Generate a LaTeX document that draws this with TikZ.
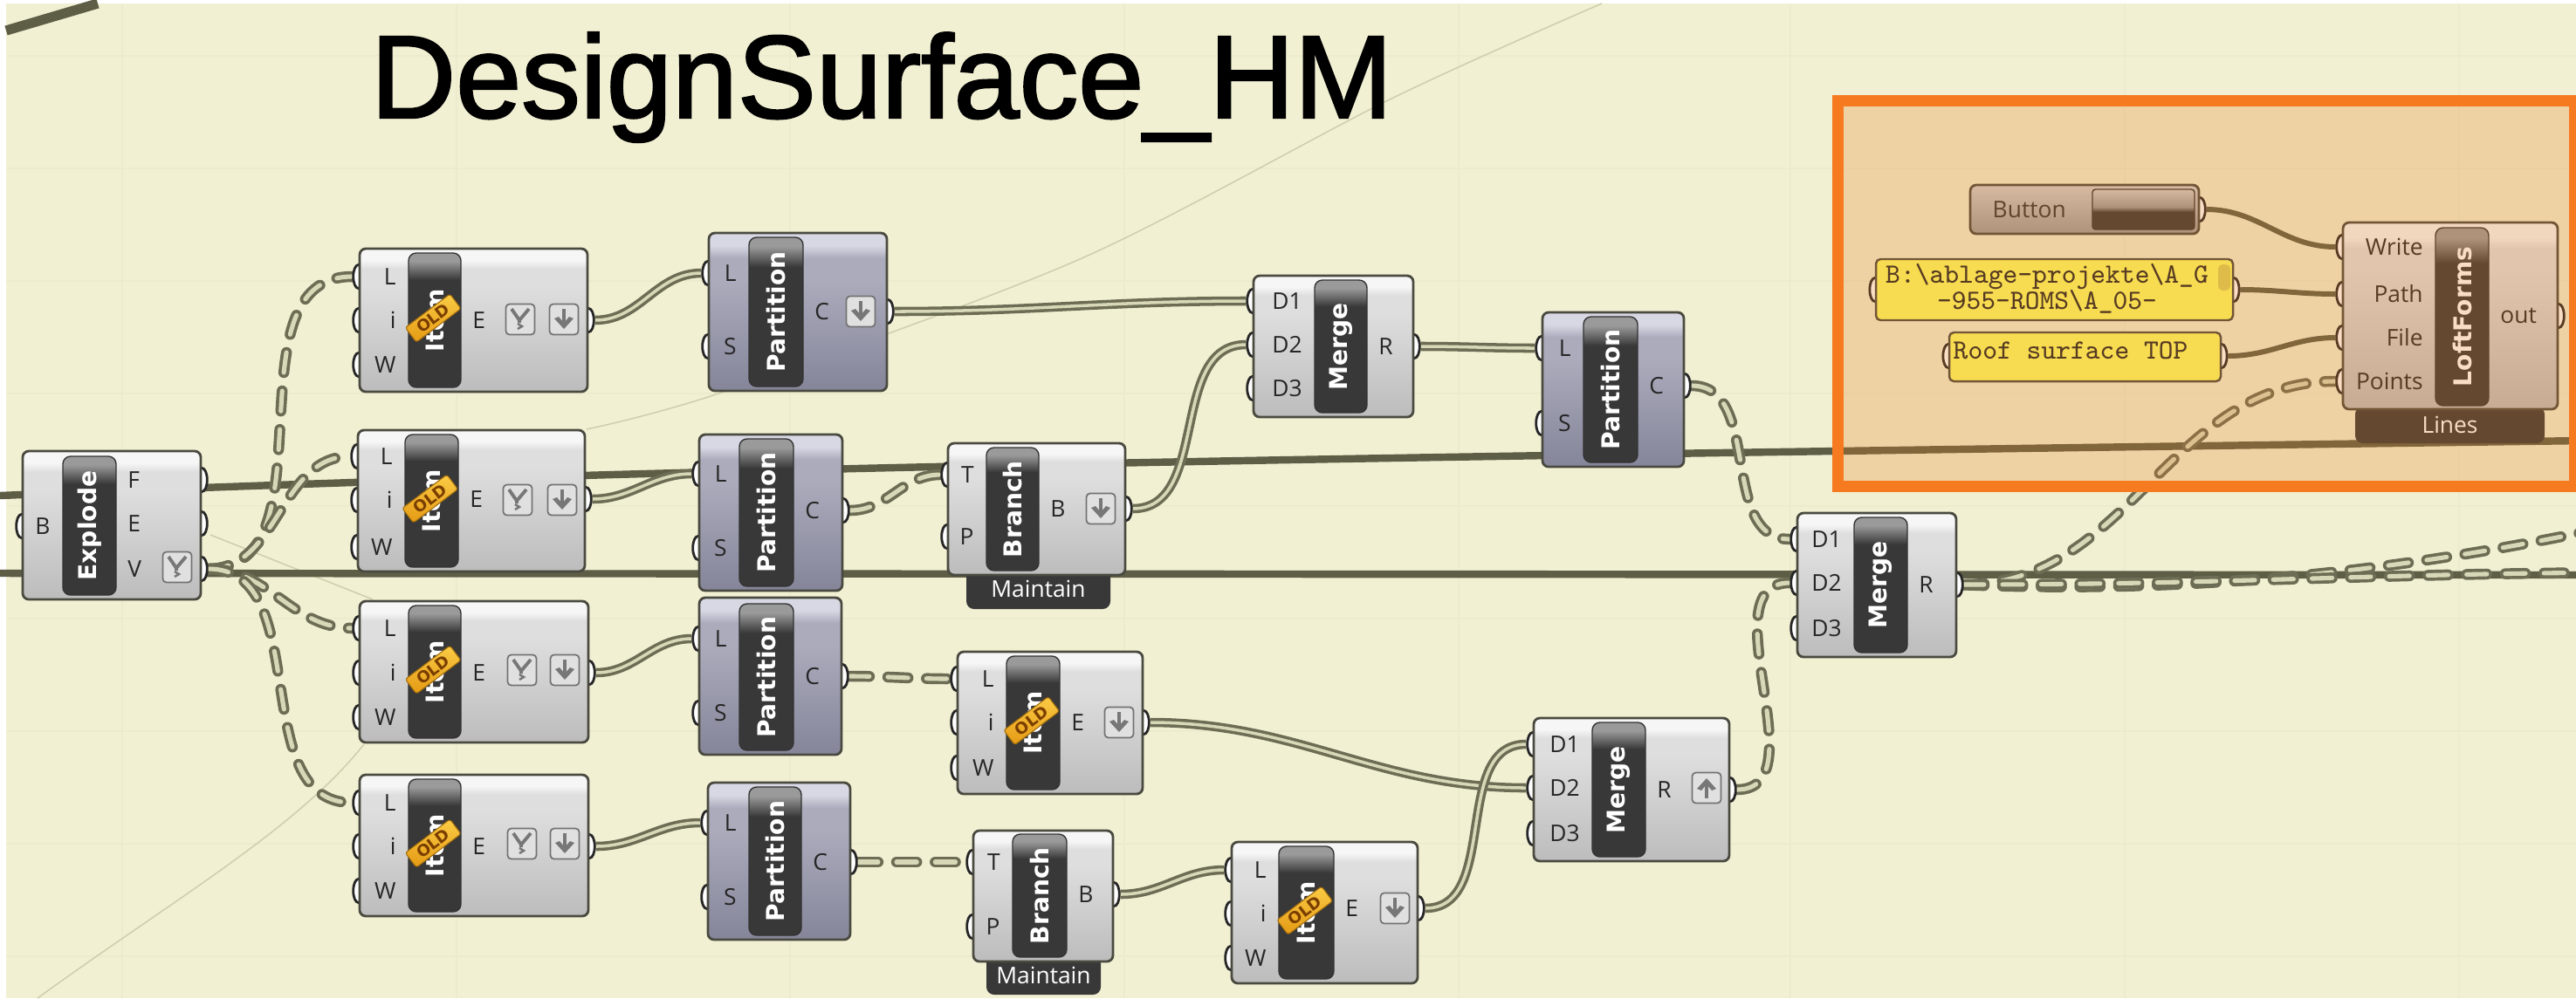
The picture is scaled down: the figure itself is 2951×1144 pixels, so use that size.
\documentclass[tikz,border=0pt]{standalone}
\usepackage{fontspec}
\setmainfont{Open Sans}
\newfontfamily\barfont{DejaVu Sans}
\newfontfamily\titlefont{Liberation Sans}[FakeBold=1.8]
\usetikzlibrary{fit,shapes.geometric}

\definecolor{canvasbg}{HTML}{F2F0D3}
\definecolor{gridtone}{HTML}{EDEBCD}
\definecolor{faintwire}{HTML}{CFCFAE}
\definecolor{wiredark}{HTML}{6D6D55}
\definecolor{wirecore}{HTML}{D8D8B8}
\definecolor{wirelonec}{HTML}{5E5E47}
\definecolor{bodyedge}{HTML}{4A4A40}
\definecolor{barcol}{HTML}{383838}
\definecolor{bargrey}{HTML}{9A9A9A}
\definecolor{bodylow}{HTML}{BCBCBC}
\definecolor{bodymid}{HTML}{DEDEDE}
\definecolor{bodytop}{HTML}{F6F6F6}
\definecolor{partlow}{HTML}{85859A}
\definecolor{partmid}{HTML}{ABABBC}
\definecolor{parttop}{HTML}{D8D8E4}
\definecolor{btnlow}{HTML}{9A9A9A}
\definecolor{btntop}{HTML}{D0D0D0}
\definecolor{paneltone}{HTML}{FCFC62}
\definecolor{panelbar}{HTML}{DCD25A}
\definecolor{tagtop}{HTML}{FBCB45}
\definecolor{taglow}{HTML}{E59A14}
\definecolor{tagtext}{HTML}{7A3E00}
\definecolor{frameorange}{HTML}{F57A20}
\definecolor{tintorange}{RGB}{234,124,27}
\definecolor{icongrey}{HTML}{777777}

\pgfdeclarelayer{back}
\pgfdeclarelayer{wires}
\pgfdeclarelayer{ports}
\pgfdeclarelayer{tint}
\pgfsetlayers{back,wires,ports,main,tint}

\pgfdeclareverticalshading{bodyshade}{100bp}{color(0bp)=(bodylow); color(25bp)=(bodylow); color(62bp)=(bodymid); color(68bp)=(bodymid); color(71bp)=(bodytop); color(100bp)=(bodytop)}
\pgfdeclareverticalshading{partshade}{100bp}{color(0bp)=(partlow); color(25bp)=(partlow); color(60bp)=(partmid); color(67bp)=(partmid); color(71bp)=(parttop); color(100bp)=(parttop)}
\pgfdeclareverticalshading{btnshade}{100bp}{color(0bp)=(btnlow); color(25bp)=(btnlow); color(75bp)=(btntop); color(100bp)=(btntop)}
\pgfdeclareverticalshading{barshade}{100bp}{color(0bp)=(barcol); color(65bp)=(barcol); color(72bp)=(bargrey); color(100bp)=(bargrey)}
\pgfdeclareverticalshading{pressshade}{100bp}{color(0bp)=(barcol); color(47bp)=(barcol); color(53bp)=(bargrey); color(75bp)=(btntop); color(100bp)=(btntop)}

\tikzset{
  compbody/.style={draw=bodyedge,line width=.8pt,rounded corners=2pt,inner sep=0pt,shading=bodyshade},
  partbody/.style={compbody,shading=partshade},
  barbox/.style={draw=black!80,line width=.4pt,rounded corners=2.5pt,inner sep=0pt,shading=barshade},
  bartext/.style={inner sep=0pt,text=white,font=\barfont\bfseries\fontsize{8}{9}\selectfont},
  tabbox/.style={fill=barcol,rounded corners=2.5pt,inner sep=0pt},
  tabtext/.style={inner sep=0pt,text=white,font=\fontsize{7.5}{9}\selectfont},
  panelbody/.style={draw=bodyedge,line width=.7pt,rounded corners=1.5pt,inner sep=0pt,fill=paneltone},
  paneltext/.style={inner sep=0pt,align=center,text=black!85,font=\ttfamily\fontsize{9.1}{8.6}\selectfont},
  portdot/.style={ellipse,draw=black!85,line width=.8pt,fill=white,minimum width=12pt*.28,minimum height=.27cm,inner sep=0pt},
  intext/.style={anchor=east,inner sep=0pt,xshift=-.13cm,text=black!85,font=\fontsize{7.5}{9}\selectfont},
  outtext/.style={anchor=west,inner sep=0pt,xshift=.12cm,text=black!85,font=\fontsize{7.5}{9}\selectfont},
  iconbox/.style={draw=black!55,line width=.5pt,rounded corners=1.2pt,fill=white!88!black,minimum width=.33cm,minimum height=.35cm,inner sep=0pt},
  oldtag/.style={rotate=37,draw=taglow!70!black,line width=.3pt,rounded corners=.8pt,top color=tagtop,bottom color=taglow,
    minimum width=.64cm,minimum height=.21cm,inner sep=0pt,text=tagtext,font=\barfont\bfseries\fontsize{5.2}{6}\selectfont},
  wirepair/.style={draw=wiredark,double=wirecore,line width=1pt,double distance=1pt},
  wiretree/.style={draw=wiredark,double=wirecore,line width=1.05pt,double distance=1.45pt,line cap=round,dash pattern=on 6.6pt off 6pt},
  wirelone/.style={draw=wirelonec,line width=2.4pt},
  wirefaint/.style={draw=faintwire,line width=.45pt},
  funnel/.pic={
    \draw[icongrey,line width=1.1pt] (-10,-12) -- (-1,1) -- (10,-12) (-1,1) -- (-1,4);
    \draw[icongrey,line width=.7pt] (-3,5) -- (2,8) -- (-3,11);
  },
  downarrow/.pic={
    \draw[icongrey,line width=1.2pt] (0,-12) -- (0,6);
    \fill[icongrey] (-11,-1) -- (0,11) -- (11,-1) -- (6,-3) -- (0,4) -- (-6,-3) -- cycle;
  },
  uparrow/.pic={
    \draw[icongrey,line width=1.2pt] (0,12) -- (0,-6);
    \fill[icongrey] (-11,1) -- (0,-11) -- (11,1) -- (6,3) -- (0,-4) -- (-6,3) -- cycle;
  }
}

% body and dark title bar of one component
\newcommand{\gcomp}[7][compbody]{
  \node[#1,fit={(#3)(#4)}] (#2) {};
  \node[barbox,fit={(#5)(#6)}] (#2bar) {};
  \node[bartext] (#2name) at (#2bar.center) {\rotatebox{90}{#7}};
}
% input and output grips with their letters
\newcommand{\inport}[3]{
  \begin{pgfonlayer}{ports}\node[portdot] (#1#2) at (#1.west |- 0,#3) {};\end{pgfonlayer}
  \node[intext] at (#1bar.west |- #1#2) {#2};
}
\newcommand{\outport}[3]{
  \begin{pgfonlayer}{ports}\node[portdot] (#1#2) at (#1.east |- 0,#3) {};\end{pgfonlayer}
  \node[outtext] at (#1bar.east |- #1#2) {#2};
}
\newcommand{\gtab}[4]{
  \begin{pgfonlayer}{ports}
    \node[tabbox,fit={(#2)(#3)}] (#1) {};
    \node[tabtext] (#1name) at (#1.center) {#4};
  \end{pgfonlayer}
}
\newcommand{\oldmark}[1]{
  \node[oldtag,yshift=.03cm] (#1tag) at (#1bar) {OLD};
}

\begin{document}
\begin{tikzpicture}[x=0.01cm,y=-0.01cm]
    \useasboundingbox (0,0) rectangle (2951,1144);

    % canvas, its faint grid and the hidden wires
    \begin{pgfonlayer}{back}
        \fill[white] (0,0) rectangle (2951,1144);
        \fill[canvasbg] (7,4) rectangle (2951,1144);
        \foreach \gx in {140,523,905,1288,1671,2051,2434,2817}
            \draw[gridtone,line width=.4pt] (\gx,4) -- (\gx,1144);
        \foreach \gy in {64,193,322,451,580,709,838,967,1096}
            \draw[gridtone,line width=.4pt] (7,\gy) -- (2951,\gy);
        \draw[wirefaint] (43,1144) .. controls (200,1030) and (340,950) .. (417,853);
        \draw[wirefaint] plot[smooth] coordinates {(672,492) (832,448) (1237,297) (1594,113) (1835,4)};
        \draw[wirefaint] (241,613) -- (427,687);
        \draw[wirelone,line width=3.2pt] (7,35) -- (112,4);
    \end{pgfonlayer}

    \node[anchor=base west,inner sep=0pt,font=\titlefont\fontsize{38.4}{40}\selectfont] (title) at (424,135) {DesignSurface\_HM};

    % Explode
    \gcomp{explode}{26,517}{230,687}{72,523}{133,682}{Explode}
    \inport{explode}{B}{603}
    \outport{explode}{F}{550}
    \outport{explode}{E}{600}
    \outport{explode}{V}{652}
    \node[iconbox] (explodeflat) at (203,650) {};
    \pic at (explodeflat) {funnel};

    % the four list items on the left
    \gcomp{item1}{412,285}{673,449}{468,290}{528,444}{Item}
    \inport{item1}{L}{317}
    \inport{item1}{i}{367}
    \inport{item1}{W}{418}
    \outport{item1}{E}{367}
    \oldmark{item1}
    \node[iconbox] (item1flat) at (596,366) {};
    \node[iconbox] (item1graft) at (646,366) {};
    \pic at (item1flat) {funnel};
    \pic at (item1graft) {downarrow};

    \gcomp{item2}{410,493}{670,655}{464,498}{525,650}{Item}
    \inport{item2}{L}{523}
    \inport{item2}{i}{573}
    \inport{item2}{W}{627}
    \outport{item2}{E}{572}
    \oldmark{item2}
    \node[iconbox] (item2flat) at (593,573) {};
    \node[iconbox] (item2graft) at (644,573) {};
    \pic at (item2flat) {funnel};
    \pic at (item2graft) {downarrow};

    \gcomp{item3}{412,689}{674,851}{468,694}{528,846}{Item}
    \inport{item3}{L}{720}
    \inport{item3}{i}{771}
    \inport{item3}{W}{822}
    \outport{item3}{E}{771}
    \oldmark{item3}
    \node[iconbox] (item3flat) at (598,768) {};
    \node[iconbox] (item3graft) at (647,768) {};
    \pic at (item3flat) {funnel};
    \pic at (item3graft) {downarrow};

    \gcomp{item4}{412,888}{674,1050}{468,893}{528,1045}{Item}
    \inport{item4}{L}{920}
    \inport{item4}{i}{970}
    \inport{item4}{W}{1021}
    \outport{item4}{E}{970}
    \oldmark{item4}
    \node[iconbox] (item4flat) at (598,967) {};
    \node[iconbox] (item4graft) at (647,967) {};
    \pic at (item4flat) {funnel};
    \pic at (item4graft) {downarrow};

    % partitions
    \gcomp[partbody]{part1}{812,267}{1016,448}{858,272}{920,443}{Partition}
    \inport{part1}{L}{313}
    \inport{part1}{S}{397}
    \outport{part1}{C}{357}
    \node[iconbox] (part1graft) at (986,357) {};
    \pic at (part1graft) {downarrow};

    \gcomp[partbody]{part2}{801,498}{965,677}{847,503}{909,672}{Partition}
    \inport{part2}{L}{543}
    \inport{part2}{S}{628}
    \outport{part2}{C}{585}

    \gcomp[partbody]{part3}{801,685}{964,865}{847,692}{909,860}{Partition}
    \inport{part3}{L}{732}
    \inport{part3}{S}{817}
    \outport{part3}{C}{775}

    \gcomp[partbody]{part4}{811,897}{974,1077}{858,902}{918,1072}{Partition}
    \inport{part4}{L}{943}
    \inport{part4}{S}{1028}
    \outport{part4}{C}{988}

    \gcomp[partbody]{part5}{1767,358}{1929,535}{1814,363}{1876,530}{Partition}
    \inport{part5}{L}{399}
    \inport{part5}{S}{485}
    \outport{part5}{C}{442}

    % branches
    \gcomp{branch1}{1086,508}{1289,659}{1130,513}{1190,654}{Branch}
    \inport{branch1}{T}{544}
    \inport{branch1}{P}{615}
    \outport{branch1}{B}{583}
    \node[iconbox] (branch1graft) at (1261,583) {};
    \pic at (branch1graft) {downarrow};
    \gtab{branch1tab}{1107,652}{1272,698}{Maintain}

    \gcomp{branch2}{1115,952}{1275,1102}{1160,956}{1222,1097}{Branch}
    \inport{branch2}{T}{988}
    \inport{branch2}{P}{1062}
    \outport{branch2}{B}{1025}
    \gtab{branch2tab}{1130,1095}{1261,1140}{Maintain}

    % the two later items
    \gcomp{item5}{1097,747}{1309,910}{1153,752}{1214,905}{Item}
    \inport{item5}{L}{778}
    \inport{item5}{i}{828}
    \inport{item5}{W}{880}
    \outport{item5}{E}{828}
    \oldmark{item5}
    \node[iconbox] (item5graft) at (1282,828) {};
    \pic at (item5graft) {downarrow};

    \gcomp{item6}{1411,965}{1624,1127}{1465,970}{1528,1122}{Item}
    \inport{item6}{L}{997}
    \inport{item6}{i}{1047}
    \inport{item6}{W}{1098}
    \outport{item6}{E}{1041}
    \oldmark{item6}
    \node[iconbox] (item6graft) at (1598,1041) {};
    \pic at (item6graft) {downarrow};

    % merges
    \gcomp{merge1}{1436,316}{1619,478}{1506,321}{1566,473}{Merge}
    \inport{merge1}{D1}{345}
    \inport{merge1}{D2}{395}
    \inport{merge1}{D3}{445}
    \outport{merge1}{R}{397}

    \gcomp{merge2}{2059,588}{2241,753}{2124,593}{2185,748}{Merge}
    \inport{merge2}{D1}{618}
    \inport{merge2}{D2}{668}
    \inport{merge2}{D3}{720}
    \outport{merge2}{R}{670}

    \gcomp{merge3}{1757,823}{1981,987}{1824,828}{1885,982}{Merge}
    \inport{merge3}{D1}{853}
    \inport{merge3}{D2}{903}
    \inport{merge3}{D3}{955}
    \outport{merge3}{R}{905}
    \node[iconbox] (merge3flip) at (1955,903) {};
    \pic at (merge3flip) {uparrow};

    % inputs of the writer
    \node[compbody,shading=btnshade,fit={(2257,212)(2519,268)}] (button) {};
    \node[anchor=west,inner sep=0pt,text=black!80,font=\fontsize{7.5}{9}\selectfont] (buttontext) at (2282,240) {Button};
    \node[draw=black!80,line width=.4pt,rounded corners=1pt,inner sep=0pt,shading=pressshade,fit={(2397,217)(2514,263)}] (buttonface) {};
    \begin{pgfonlayer}{ports}\node[portdot] (buttonout) at (button.east |- 0,240) {};\end{pgfonlayer}

    \node[panelbody,fit={(2149,297)(2558,367)}] (panelpath) {};
    \node[fill=panelbar,rounded corners=1.5pt,inner sep=0pt,fit={(2541,303)(2555,333)}] (panelscroll) {};
    \node[paneltext] (panelpathtext) at (2345,331) {B:\textbackslash ablage-projekte\textbackslash A\_G\\-955-ROMS\textbackslash A\_05-};
    \begin{pgfonlayer}{ports}
        \node[portdot] (panelpathin) at (panelpath.west |- 0,332) {};
        \node[portdot] (panelpathout) at (panelpath.east |- 0,332) {};
    \end{pgfonlayer}

    \node[panelbody,fit={(2233,381)(2544,437)}] (panelfile) {};
    \node[paneltext,anchor=west] (panelfiletext) at (2237,402) {Roof surface TOP};
    \begin{pgfonlayer}{ports}
        \node[portdot] (panelfilein) at (panelfile.west |- 0,408) {};
        \node[portdot] (panelfileout) at (panelfile.east |- 0,408) {};
    \end{pgfonlayer}

    % writer
    \gcomp{loft}{2684,255}{2930,469}{2790,261}{2851,465}{LoftForms}
    \inport{loft}{Write}{283}
    \inport{loft}{Path}{337}
    \inport{loft}{File}{387}
    \inport{loft}{Points}{437}
    \outport{loft}{out}{362}
    \gtab{lofttab}{2698,466}{2915,508}{Lines}

    % free ends beyond the picture
    \coordinate (leftA) at (0,568);
    \coordinate (rightA) at (2960,505);
    \coordinate (leftB) at (0,657);
    \coordinate (rightB) at (2960,659);
    \coordinate (rightC) at (3050,590);
    \coordinate (rightD) at (3050,656);

    \begin{pgfonlayer}{wires}
        % long plain wires
        \draw[wirelone] (leftA) .. controls (800,535) and (1500,525) .. (rightA);
        \draw[wirelone] (leftB) -- (rightB);

        % dashed wires from the vertices
        \draw[wiretree] (explodeV) to[out=0,in=180] (item1L);
        \draw[wiretree] (explodeV) to[out=0,in=180] (item2L);
        \draw[wiretree] (explodeV) to[out=0,in=180] (item3L);
        \draw[wiretree] (explodeV) to[out=0,in=180] (item4L);

        \draw[wirepair] (item1E) to[out=0,in=180] (part1L);
        \draw[wirepair] (item2E) to[out=0,in=180] (part2L);
        \draw[wirepair] (item3E) to[out=0,in=180] (part3L);
        \draw[wirepair] (item4E) to[out=0,in=180] (part4L);

        \draw[wirepair] (part1C) to[out=0,in=180] (merge1D1);
        \draw[wiretree] (part2C) to[out=0,in=180] (branch1T);
        \draw[wiretree] (part3C) to[out=0,in=180] (item5L);
        \draw[wiretree] (part4C) to[out=0,in=180] (branch2T);

        \draw[wirepair] (branch1B) to[out=0,in=180] (merge1D2);
        \draw[wirepair] (branch2B) to[out=0,in=180] (item6L);
        \draw[wirepair] (merge1R) to[out=0,in=180] (part5L);
        \draw[wiretree] (part5C) to[out=0,in=180] (merge2D1);

        \draw[wirepair] (item5E) to[out=0,in=180] (merge3D2);
        \draw[wirepair] (item6E) to[out=0,in=180] (merge3D1);
        \draw[wiretree] (merge3R) to[out=0,in=180] (merge2D2);

        % out of the last merge
        \draw[wiretree] (merge2R) to[out=0,in=180] (loftPoints);
        \draw[wiretree] (merge2R) .. controls (2500,680) and (2750,660) .. (rightC);
        \draw[wiretree] (merge2R) to[out=0,in=180] (rightD);

        % into the writer
        \draw[wirelone,line width=1.7pt] (buttonout) to[out=0,in=180] (loftWrite);
        \draw[wirelone,line width=1.7pt] (panelpathout) to[out=0,in=180] (loftPath);
        \draw[wirelone,line width=1.7pt] (panelfileout) to[out=0,in=180] (loftFile);
    \end{pgfonlayer}

    % orange frame laid over the writer group
    \begin{pgfonlayer}{tint}
        \node[draw=frameorange,line width=3.7pt,fill=tintorange,fill opacity=.25,draw opacity=1,inner sep=0pt,fit={(2105,115)(2949.5,557)}] (writerframe) {};
    \end{pgfonlayer}
\end{tikzpicture}
\end{document}
